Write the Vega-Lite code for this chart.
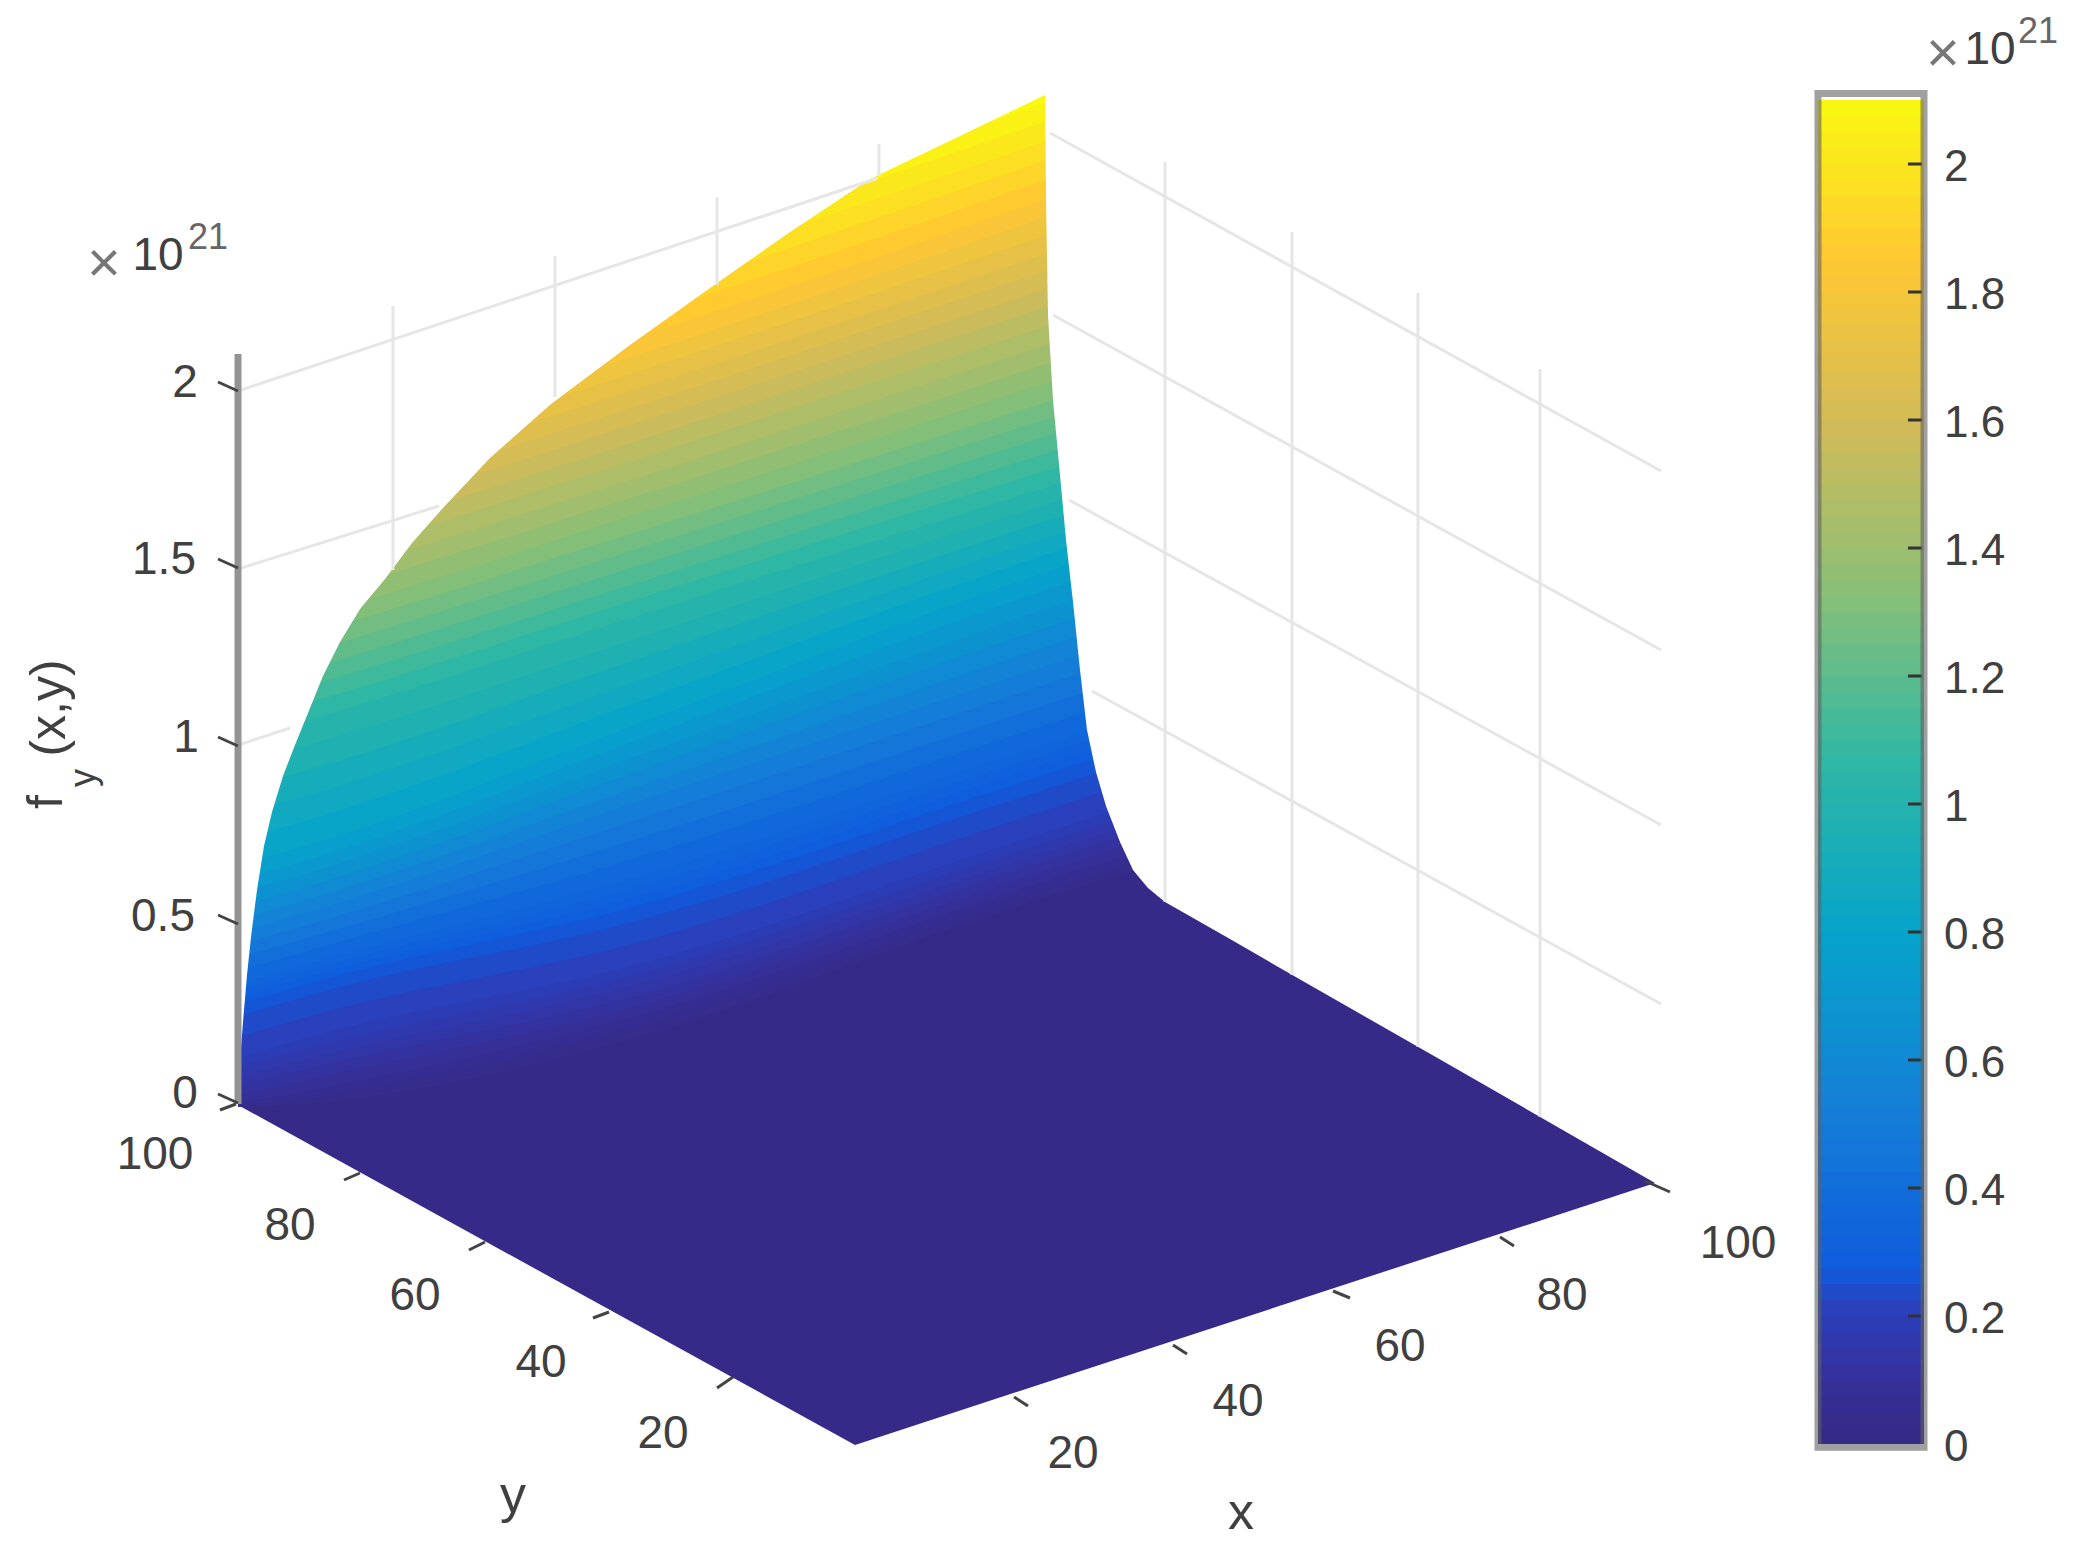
{
  "$schema": "https://vega.github.io/schema/vega-lite/v6.json",
  "description": "Surface f_y(x,y) seen from a fixed 3D view, u and v are the projected plane coordinates",
  "width": 1927,
  "height": 1563,
  "autosize": "none",
  "padding": {"left": 0, "top": 0, "right": 161, "bottom": 0},
  "background": "white",
  "config": {"view": {"stroke": null}, "text": {"font": "Liberation Sans"}},
  "datasets": {
    "levels": [
      {"z":0.025,"u":238,"v":1107},{"z":0.025,"u":325,"v":1102},{"z":0.025,"u":640,"v":1036},{"z":0.025,"u":1000,"v":912},{"z":0.025,"u":1200,"v":851},
      {"z":0.05,"u":238,"v":1106},{"z":0.05,"u":325,"v":1094},{"z":0.05,"u":640,"v":1025},{"z":0.05,"u":1000,"v":904},{"z":0.05,"u":1200,"v":841},
      {"z":0.075,"u":238,"v":1103},{"z":0.075,"u":325,"v":1087},{"z":0.075,"u":640,"v":1015},{"z":0.075,"u":1000,"v":896},{"z":0.075,"u":1200,"v":832},
      {"z":0.1,"u":238,"v":1095},{"z":0.1,"u":325,"v":1076},{"z":0.1,"u":640,"v":1005},{"z":0.1,"u":1000,"v":886},{"z":0.1,"u":1200,"v":822},
      {"z":0.125,"u":238,"v":1086},{"z":0.125,"u":325,"v":1065},{"z":0.125,"u":640,"v":995},{"z":0.125,"u":1000,"v":876},{"z":0.125,"u":1200,"v":812},
      {"z":0.15,"u":238,"v":1077},{"z":0.15,"u":325,"v":1055},{"z":0.15,"u":640,"v":984},{"z":0.15,"u":1000,"v":867},{"z":0.15,"u":1200,"v":803},
      {"z":0.175,"u":238,"v":1067},{"z":0.175,"u":325,"v":1044},{"z":0.175,"u":640,"v":974},{"z":0.175,"u":1000,"v":857},{"z":0.175,"u":1200,"v":793},
      {"z":0.2,"u":238,"v":1058},{"z":0.2,"u":325,"v":1033},{"z":0.2,"u":640,"v":964},{"z":0.2,"u":1000,"v":847},{"z":0.2,"u":1200,"v":783},
      {"z":0.225,"u":238,"v":1037},{"z":0.225,"u":325,"v":1012},{"z":0.225,"u":640,"v":942},{"z":0.225,"u":1000,"v":825},{"z":0.225,"u":1200,"v":761},
      {"z":0.25,"u":238,"v":1016},{"z":0.25,"u":325,"v":991},{"z":0.25,"u":640,"v":920},{"z":0.25,"u":1000,"v":804},{"z":0.25,"u":1200,"v":740},
      {"z":0.275,"u":238,"v":1004},{"z":0.275,"u":325,"v":979},{"z":0.275,"u":640,"v":905},{"z":0.275,"u":1000,"v":789},{"z":0.275,"u":1200,"v":725},
      {"z":0.3,"u":238,"v":997},{"z":0.3,"u":325,"v":972},{"z":0.3,"u":640,"v":896},{"z":0.3,"u":1000,"v":779},{"z":0.3,"u":1200,"v":715},
      {"z":0.325,"u":238,"v":991},{"z":0.325,"u":325,"v":966},{"z":0.325,"u":640,"v":886},{"z":0.325,"u":1000,"v":769},{"z":0.325,"u":1200,"v":705},
      {"z":0.35,"u":238,"v":984},{"z":0.35,"u":325,"v":959},{"z":0.35,"u":640,"v":876},{"z":0.35,"u":1000,"v":759},{"z":0.35,"u":1200,"v":695},
      {"z":0.4,"u":238,"v":971},{"z":0.4,"u":325,"v":946},{"z":0.4,"u":640,"v":857},{"z":0.4,"u":1000,"v":740},{"z":0.4,"u":1200,"v":674},
      {"z":0.45,"u":238,"v":958},{"z":0.45,"u":325,"v":933},{"z":0.45,"u":640,"v":838},{"z":0.45,"u":1000,"v":720},{"z":0.45,"u":1200,"v":654},
      {"z":0.5,"u":238,"v":945},{"z":0.5,"u":325,"v":920},{"z":0.5,"u":640,"v":819},{"z":0.5,"u":1000,"v":700},{"z":0.5,"u":1200,"v":634},
      {"z":0.55,"u":238,"v":932},{"z":0.55,"u":325,"v":907},{"z":0.55,"u":640,"v":801},{"z":0.55,"u":1000,"v":681},{"z":0.55,"u":1200,"v":615},
      {"z":0.6,"u":238,"v":919},{"z":0.6,"u":325,"v":894},{"z":0.6,"u":640,"v":786},{"z":0.6,"u":1000,"v":662},{"z":0.6,"u":1200,"v":596},
      {"z":0.65,"u":238,"v":906},{"z":0.65,"u":325,"v":881},{"z":0.65,"u":640,"v":770},{"z":0.65,"u":1000,"v":643},{"z":0.65,"u":1200,"v":577},
      {"z":0.7,"u":238,"v":893},{"z":0.7,"u":325,"v":868},{"z":0.7,"u":640,"v":755},{"z":0.7,"u":1000,"v":625},{"z":0.7,"u":1200,"v":559},
      {"z":0.75,"u":238,"v":880},{"z":0.75,"u":325,"v":855},{"z":0.75,"u":640,"v":739},{"z":0.75,"u":1000,"v":606},{"z":0.75,"u":1200,"v":540},
      {"z":0.8,"u":238,"v":865},{"z":0.8,"u":325,"v":840},{"z":0.8,"u":640,"v":723},{"z":0.8,"u":1000,"v":588},{"z":0.8,"u":1200,"v":522},
      {"z":0.85,"u":238,"v":840},{"z":0.85,"u":325,"v":815},{"z":0.85,"u":640,"v":701},{"z":0.85,"u":1000,"v":570},{"z":0.85,"u":1200,"v":505},
      {"z":0.9,"u":238,"v":815},{"z":0.9,"u":325,"v":790},{"z":0.9,"u":640,"v":680},{"z":0.9,"u":1000,"v":553},{"z":0.9,"u":1200,"v":489},
      {"z":0.95,"u":238,"v":790},{"z":0.95,"u":325,"v":765},{"z":0.95,"u":640,"v":658},{"z":0.95,"u":1000,"v":536},{"z":0.95,"u":1200,"v":473},
      {"z":1,"u":238,"v":765},{"z":1,"u":325,"v":740},{"z":1,"u":640,"v":637},{"z":1,"u":1000,"v":519},{"z":1,"u":1200,"v":456},
      {"z":1.05,"u":238,"v":740},{"z":1.05,"u":325,"v":715},{"z":1.05,"u":640,"v":615},{"z":1.05,"u":1000,"v":502},{"z":1.05,"u":1200,"v":440},
      {"z":1.1,"u":238,"v":723},{"z":1.1,"u":325,"v":698},{"z":1.1,"u":640,"v":598},{"z":1.1,"u":1000,"v":485},{"z":1.1,"u":1200,"v":423},
      {"z":1.15,"u":238,"v":706},{"z":1.15,"u":325,"v":681},{"z":1.15,"u":640,"v":582},{"z":1.15,"u":1000,"v":468},{"z":1.15,"u":1200,"v":405},
      {"z":1.2,"u":238,"v":689},{"z":1.2,"u":325,"v":664},{"z":1.2,"u":640,"v":565},{"z":1.2,"u":1000,"v":451},{"z":1.2,"u":1200,"v":388},
      {"z":1.25,"u":238,"v":672},{"z":1.25,"u":325,"v":647},{"z":1.25,"u":640,"v":548},{"z":1.25,"u":1000,"v":434},{"z":1.25,"u":1200,"v":371},
      {"z":1.3,"u":238,"v":654},{"z":1.3,"u":325,"v":629},{"z":1.3,"u":640,"v":531},{"z":1.3,"u":1000,"v":417},{"z":1.3,"u":1200,"v":353},
      {"z":1.35,"u":238,"v":637},{"z":1.35,"u":325,"v":612},{"z":1.35,"u":640,"v":513},{"z":1.35,"u":1000,"v":398},{"z":1.35,"u":1200,"v":334},
      {"z":1.4,"u":238,"v":618},{"z":1.4,"u":325,"v":593},{"z":1.4,"u":640,"v":495},{"z":1.4,"u":1000,"v":379},{"z":1.4,"u":1200,"v":315},
      {"z":1.45,"u":238,"v":600},{"z":1.45,"u":325,"v":575},{"z":1.45,"u":640,"v":477},{"z":1.45,"u":1000,"v":360},{"z":1.45,"u":1200,"v":296},
      {"z":1.5,"u":238,"v":582},{"z":1.5,"u":325,"v":557},{"z":1.5,"u":640,"v":458},{"z":1.5,"u":1000,"v":341},{"z":1.5,"u":1200,"v":276},
      {"z":1.55,"u":238,"v":564},{"z":1.55,"u":325,"v":539},{"z":1.55,"u":640,"v":440},{"z":1.55,"u":1000,"v":322},{"z":1.55,"u":1200,"v":257},
      {"z":1.6,"u":238,"v":546},{"z":1.6,"u":325,"v":521},{"z":1.6,"u":640,"v":422},{"z":1.6,"u":1000,"v":304},{"z":1.6,"u":1200,"v":238},
      {"z":1.65,"u":238,"v":529},{"z":1.65,"u":325,"v":504},{"z":1.65,"u":640,"v":405},{"z":1.65,"u":1000,"v":286},{"z":1.65,"u":1200,"v":220},
      {"z":1.7,"u":238,"v":512},{"z":1.7,"u":325,"v":487},{"z":1.7,"u":640,"v":388},{"z":1.7,"u":1000,"v":269},{"z":1.7,"u":1200,"v":201},
      {"z":1.75,"u":238,"v":495},{"z":1.75,"u":325,"v":470},{"z":1.75,"u":640,"v":371},{"z":1.75,"u":1000,"v":251},{"z":1.75,"u":1200,"v":183},
      {"z":1.8,"u":238,"v":478},{"z":1.8,"u":325,"v":453},{"z":1.8,"u":640,"v":354},{"z":1.8,"u":1000,"v":233},{"z":1.8,"u":1200,"v":165},
      {"z":1.85,"u":238,"v":460},{"z":1.85,"u":325,"v":435},{"z":1.85,"u":640,"v":336},{"z":1.85,"u":1000,"v":215},{"z":1.85,"u":1200,"v":146},
      {"z":1.9,"u":238,"v":441},{"z":1.9,"u":325,"v":416},{"z":1.9,"u":640,"v":317},{"z":1.9,"u":1000,"v":196},{"z":1.9,"u":1200,"v":127},
      {"z":1.95,"u":238,"v":422},{"z":1.95,"u":325,"v":397},{"z":1.95,"u":640,"v":298},{"z":1.95,"u":1000,"v":176},{"z":1.95,"u":1200,"v":108},
      {"z":2,"u":238,"v":402},{"z":2,"u":325,"v":377},{"z":2,"u":640,"v":278},{"z":2,"u":1000,"v":157},{"z":2,"u":1200,"v":88},
      {"z":2.05,"u":238,"v":383},{"z":2.05,"u":325,"v":358},{"z":2.05,"u":640,"v":259},{"z":2.05,"u":1000,"v":137},{"z":2.05,"u":1200,"v":69},
      {"z":2.1,"u":238,"v":364},{"z":2.1,"u":325,"v":339},{"z":2.1,"u":640,"v":240},{"z":2.1,"u":1000,"v":118},{"z":2.1,"u":1200,"v":50}
    ],
    "colorbar": [
      {"z":0,"z2":0.03},{"z":0.025,"z2":0.055},{"z":0.05,"z2":0.08},{"z":0.075,"z2":0.105},{"z":0.1,"z2":0.13},{"z":0.125,"z2":0.155},{"z":0.15,"z2":0.18},
      {"z":0.175,"z2":0.205},{"z":0.2,"z2":0.23},{"z":0.225,"z2":0.255},{"z":0.25,"z2":0.28},{"z":0.275,"z2":0.305},{"z":0.3,"z2":0.33},{"z":0.325,"z2":0.355},
      {"z":0.35,"z2":0.38},{"z":0.375,"z2":0.405},{"z":0.4,"z2":0.43},{"z":0.425,"z2":0.455},{"z":0.45,"z2":0.48},{"z":0.475,"z2":0.505},{"z":0.5,"z2":0.53},
      {"z":0.525,"z2":0.555},{"z":0.55,"z2":0.58},{"z":0.575,"z2":0.605},{"z":0.6,"z2":0.63},{"z":0.625,"z2":0.655},{"z":0.65,"z2":0.68},{"z":0.675,"z2":0.705},
      {"z":0.7,"z2":0.73},{"z":0.725,"z2":0.755},{"z":0.75,"z2":0.78},{"z":0.775,"z2":0.805},{"z":0.8,"z2":0.83},{"z":0.825,"z2":0.855},{"z":0.85,"z2":0.88},
      {"z":0.875,"z2":0.905},{"z":0.9,"z2":0.93},{"z":0.925,"z2":0.955},{"z":0.95,"z2":0.98},{"z":0.975,"z2":1.005},{"z":1,"z2":1.03},{"z":1.025,"z2":1.055},
      {"z":1.05,"z2":1.08},{"z":1.075,"z2":1.105},{"z":1.1,"z2":1.13},{"z":1.125,"z2":1.155},{"z":1.15,"z2":1.18},{"z":1.175,"z2":1.205},{"z":1.2,"z2":1.23},
      {"z":1.225,"z2":1.255},{"z":1.25,"z2":1.28},{"z":1.275,"z2":1.305},{"z":1.3,"z2":1.33},{"z":1.325,"z2":1.355},{"z":1.35,"z2":1.38},{"z":1.375,"z2":1.405},
      {"z":1.4,"z2":1.43},{"z":1.425,"z2":1.455},{"z":1.45,"z2":1.48},{"z":1.475,"z2":1.505},{"z":1.5,"z2":1.53},{"z":1.525,"z2":1.555},{"z":1.55,"z2":1.58},
      {"z":1.575,"z2":1.605},{"z":1.6,"z2":1.63},{"z":1.625,"z2":1.655},{"z":1.65,"z2":1.68},{"z":1.675,"z2":1.705},{"z":1.7,"z2":1.73},{"z":1.725,"z2":1.755},
      {"z":1.75,"z2":1.78},{"z":1.775,"z2":1.805},{"z":1.8,"z2":1.83},{"z":1.825,"z2":1.855},{"z":1.85,"z2":1.88},{"z":1.875,"z2":1.905},{"z":1.9,"z2":1.93},
      {"z":1.925,"z2":1.955},{"z":1.95,"z2":1.98},{"z":1.975,"z2":2.005},{"z":2,"z2":2.03},{"z":2.025,"z2":2.055},{"z":2.05,"z2":2.08},{"z":2.075,"z2":2.1}
    ]
  },
  "resolve": {"scale": {"y": "independent"}},
  "layer": [
    {
      "encoding": {
        "x": {"field": "u", "type": "quantitative", "scale": {"domain": [0, 1927], "nice": false, "zero": false}, "axis": null},
        "y": {"field": "v", "type": "quantitative", "scale": {"domain": [1563, 0], "nice": false, "zero": false}, "axis": null}
      },
      "layer": [
        {
          "data": {"values": [{"u":238,"v":1105},{"u":855,"v":1445},{"u":1655,"v":1183}]},
          "mark": {"type": "area", "orient": "vertical", "color": "#352A87"},
          "encoding": {"y2": {"datum": 0}}
        },
        {
          "data": {"name": "levels"},
          "mark": {"type": "area", "orient": "vertical", "interpolate": "monotone"},
          "encoding": {
            "y2": {"datum": 0},
            "detail": {"field": "z", "type": "quantitative"},
            "color": {
              "field": "z", "type": "quantitative", "legend": null,
              "scale": {
                "interpolate": "rgb",
                "domain": [0, 0.08, 0.2, 0.2625, 0.525, 0.7875, 1.05, 1.3125, 1.575, 1.8375, 2.1],
                "range": ["#352A87", "#352F98", "#2A40BC", "#0F5CDD", "#1481D6", "#06A4CA", "#2EB7A4", "#87BF77", "#D1BB59", "#FEC832", "#F9FB0E"]
              }
            }
          }
        },
        {
          "data": {"values": [
            {"u":238,"v":1105},{"u":240,"v":1060},{"u":244,"v":1010},{"u":247,"v":975},{"u":251,"v":937},{"u":257,"v":890},{"u":264,"v":846},{"u":272,"v":812},
            {"u":283,"v":776},{"u":295,"v":745},{"u":308,"v":713},{"u":323,"v":676},{"u":340,"v":642},{"u":360,"v":609},{"u":385,"v":579},{"u":412,"v":543},
            {"u":442,"v":509},{"u":490,"v":458},{"u":551,"v":404},{"u":630,"v":345},{"u":710,"v":288},{"u":790,"v":232},{"u":870,"v":179},{"u":960,"v":136},
            {"u":1045,"v":95},{"u":1046,"v":200},{"u":1048,"v":315},{"u":1053,"v":400},{"u":1060,"v":475},{"u":1066,"v":540},{"u":1073,"v":602},{"u":1080,"v":670},
            {"u":1087,"v":730},{"u":1096,"v":772},{"u":1106,"v":806},{"u":1120,"v":842},{"u":1133,"v":870},{"u":1148,"v":888},{"u":1165,"v":902},{"u":1230,"v":939},
            {"u":1294,"v":976},{"u":1441,"v":1060},{"u":1655,"v":1183}
          ]},
          "mark": {"type": "area", "orient": "vertical", "color": "white"},
          "encoding": {"y2": {"datum": 0}}
        },
        {
          "data": {"values": [
            {"id":"a","u":238,"v":391},{"id":"a","u":878,"v":178},
            {"id":"b","u":238,"v":569},{"id":"b","u":439,"v":506},
            {"id":"c","u":238,"v":745},{"id":"c","u":290,"v":728},
            {"id":"d","u":393,"v":306},{"id":"d","u":393,"v":570},
            {"id":"e","u":555,"v":256},{"id":"e","u":555,"v":397},
            {"id":"f","u":717,"v":197},{"id":"f","u":717,"v":285},
            {"id":"g","u":879,"v":144},{"id":"g","u":879,"v":176},
            {"id":"h","u":1050,"v":133},{"id":"h","u":1661,"v":471},
            {"id":"i","u":1053,"v":315},{"id":"i","u":1661,"v":650},
            {"id":"j","u":1069,"v":500},{"id":"j","u":1661,"v":825},
            {"id":"k","u":1092,"v":691},{"id":"k","u":1661,"v":1004},
            {"id":"l","u":1165,"v":162},{"id":"l","u":1165,"v":902},
            {"id":"m","u":1292,"v":232},{"id":"m","u":1292,"v":975},
            {"id":"n","u":1418,"v":293},{"id":"n","u":1418,"v":1047},
            {"id":"o","u":1540,"v":369},{"id":"o","u":1540,"v":1117}
          ]},
          "mark": {"type": "line", "color": "#e6e6e6", "strokeWidth": 3},
          "encoding": {"detail": {"field": "id", "type": "nominal"}}
        },
        {
          "data": {"values": [{"u":238,"v":354},{"u":238,"v":1104}]},
          "mark": {"type": "line", "color": "#949494", "strokeWidth": 7},
          "encoding": {}
        },
        {
          "data": {"values": [
            {"id":"z2","u":218,"v":382},{"id":"z2","u":238,"v":391},
            {"id":"z15","u":218,"v":559},{"id":"z15","u":238,"v":568},
            {"id":"z1","u":218,"v":737},{"id":"z1","u":238,"v":746},
            {"id":"z05","u":218,"v":915},{"id":"z05","u":238,"v":924},
            {"id":"z0","u":218,"v":1094},{"id":"z0","u":238,"v":1103},
            {"id":"y100","u":220,"v":1110},{"id":"y100","u":236,"v":1104},
            {"id":"y80","u":344,"v":1180},{"id":"y80","u":360,"v":1173},
            {"id":"y60","u":469,"v":1250},{"id":"y60","u":485,"v":1242},
            {"id":"y40","u":593,"v":1318},{"id":"y40","u":609,"v":1312},
            {"id":"y20","u":717,"v":1388},{"id":"y20","u":733,"v":1377},
            {"id":"x100","u":1645,"v":1181},{"id":"x100","u":1670,"v":1192},
            {"id":"x80","u":1500,"v":1237},{"id":"x80","u":1514,"v":1246},
            {"id":"x60","u":1333,"v":1291},{"id":"x60","u":1350,"v":1298},
            {"id":"x40","u":1173,"v":1345},{"id":"x40","u":1187,"v":1354},
            {"id":"x20","u":1014,"v":1397},{"id":"x20","u":1028,"v":1406}
          ]},
          "mark": {"type": "line", "color": "#444444", "strokeWidth": 3},
          "encoding": {"detail": {"field": "id", "type": "nominal"}}
        },
        {
          "data": {"values": [
            {"u":185,"v":383,"t":"2"},{"u":164,"v":560,"t":"1.5"},{"u":186,"v":738,"t":"1"},{"u":163,"v":917,"t":"0.5"},{"u":185,"v":1094,"t":"0"},
            {"u":155,"v":1155,"t":"100"},{"u":290,"v":1226,"t":"80"},{"u":415,"v":1296,"t":"60"},{"u":541,"v":1363,"t":"40"},{"u":663,"v":1434,"t":"20"},
            {"u":1738,"v":1244,"t":"100"},{"u":1562,"v":1296,"t":"80"},{"u":1400,"v":1347,"t":"60"},{"u":1238,"v":1402,"t":"40"},{"u":1073,"v":1454,"t":"20"},
            {"u":158,"v":256,"t":"10"},{"u":1990,"v":50,"t":"10"}
          ]},
          "mark": {"type": "text", "fontSize": 46, "color": "#404040", "align": "center", "baseline": "middle"},
          "encoding": {"text": {"field": "t", "type": "nominal"}}
        },
        {
          "data": {"values": [{"u":513,"v":1496,"t":"y"},{"u":1241,"v":1513,"t":"x"}]},
          "mark": {"type": "text", "fontSize": 52, "color": "#404040", "align": "center", "baseline": "middle"},
          "encoding": {"text": {"field": "t", "type": "nominal"}}
        },
        {
          "data": {"values": [{"u":208,"v":238,"t":"21"},{"u":2038,"v":32,"t":"21"}]},
          "mark": {"type": "text", "fontSize": 36, "color": "#666666", "align": "center", "baseline": "middle"},
          "encoding": {"text": {"field": "t", "type": "nominal"}}
        },
        {
          "data": {"values": [{"u":104,"v":265,"t":"×"},{"u":1943,"v":55,"t":"×"}]},
          "mark": {"type": "text", "fontSize": 58, "color": "#777777", "align": "center", "baseline": "middle"},
          "encoding": {"text": {"field": "t", "type": "nominal"}}
        },
        {
          "data": {"values": [{"u":47,"v":802,"t":"f"},{"u":50,"v":708,"t":"(x,y)"}]},
          "mark": {"type": "text", "fontSize": 50, "color": "#404040", "align": "center", "baseline": "middle", "angle": 270},
          "encoding": {"text": {"field": "t", "type": "nominal"}}
        },
        {
          "data": {"values": [{"u":84,"v":778,"t":"y"}]},
          "mark": {"type": "text", "fontSize": 36, "color": "#404040", "align": "center", "baseline": "middle", "angle": 270},
          "encoding": {"text": {"field": "t", "type": "nominal"}}
        }
      ]
    },
    {
      "encoding": {
        "x": {"datum": 1818, "type": "quantitative", "scale": {"domain": [0, 1927], "nice": false, "zero": false}, "axis": null},
        "y": {"field": "z", "type": "quantitative", "scale": {"domain": [-0.1859, 2.25625], "nice": false, "zero": false}, "axis": null}
      },
      "layer": [
        {
          "data": {"name": "colorbar"},
          "mark": {"type": "rect"},
          "encoding": {
            "x2": {"datum": 1924},
            "y2": {"field": "z2"},
            "color": {
              "field": "z", "type": "quantitative", "legend": null,
              "scale": {
                "interpolate": "rgb",
                "domain": [0, 0.08, 0.2, 0.2625, 0.525, 0.7875, 1.05, 1.3125, 1.575, 1.8375, 2.1],
                "range": ["#352A87", "#352F98", "#2A40BC", "#0F5CDD", "#1481D6", "#06A4CA", "#2EB7A4", "#87BF77", "#D1BB59", "#FEC832", "#F9FB0E"]
              }
            }
          }
        },
        {
          "data": {"values": [{"z": 0.2}, {"z": 0.4}, {"z": 0.6}, {"z": 0.8}, {"z": 1}, {"z": 1.2}, {"z": 1.4}, {"z": 1.6}, {"z": 1.8}, {"z": 2}]},
          "mark": {"type": "rule", "color": "#333333", "strokeWidth": 3},
          "encoding": {
            "x": {"datum": 1908},
            "x2": {"datum": 1922}
          }
        },
        {
          "data": {"values": [{"z": -0.005, "z2": 2.11}]},
          "mark": {"type": "rect", "filled": false, "stroke": "#606060", "strokeWidth": 7, "strokeOpacity": 0.6},
          "encoding": {
            "x2": {"datum": 1924},
            "y2": {"field": "z2"}
          }
        },
        {
          "data": {"values": [{"z": 0}, {"z": 0.2}, {"z": 0.4}, {"z": 0.6}, {"z": 0.8}, {"z": 1}, {"z": 1.2}, {"z": 1.4}, {"z": 1.6}, {"z": 1.8}, {"z": 2}]},
          "mark": {"type": "text", "fontSize": 44, "color": "#404040", "align": "left", "baseline": "middle", "dy": 4},
          "encoding": {
            "x": {"datum": 1944},
            "text": {"field": "z", "type": "quantitative", "format": "~g"}
          }
        }
      ]
    }
  ]
}
